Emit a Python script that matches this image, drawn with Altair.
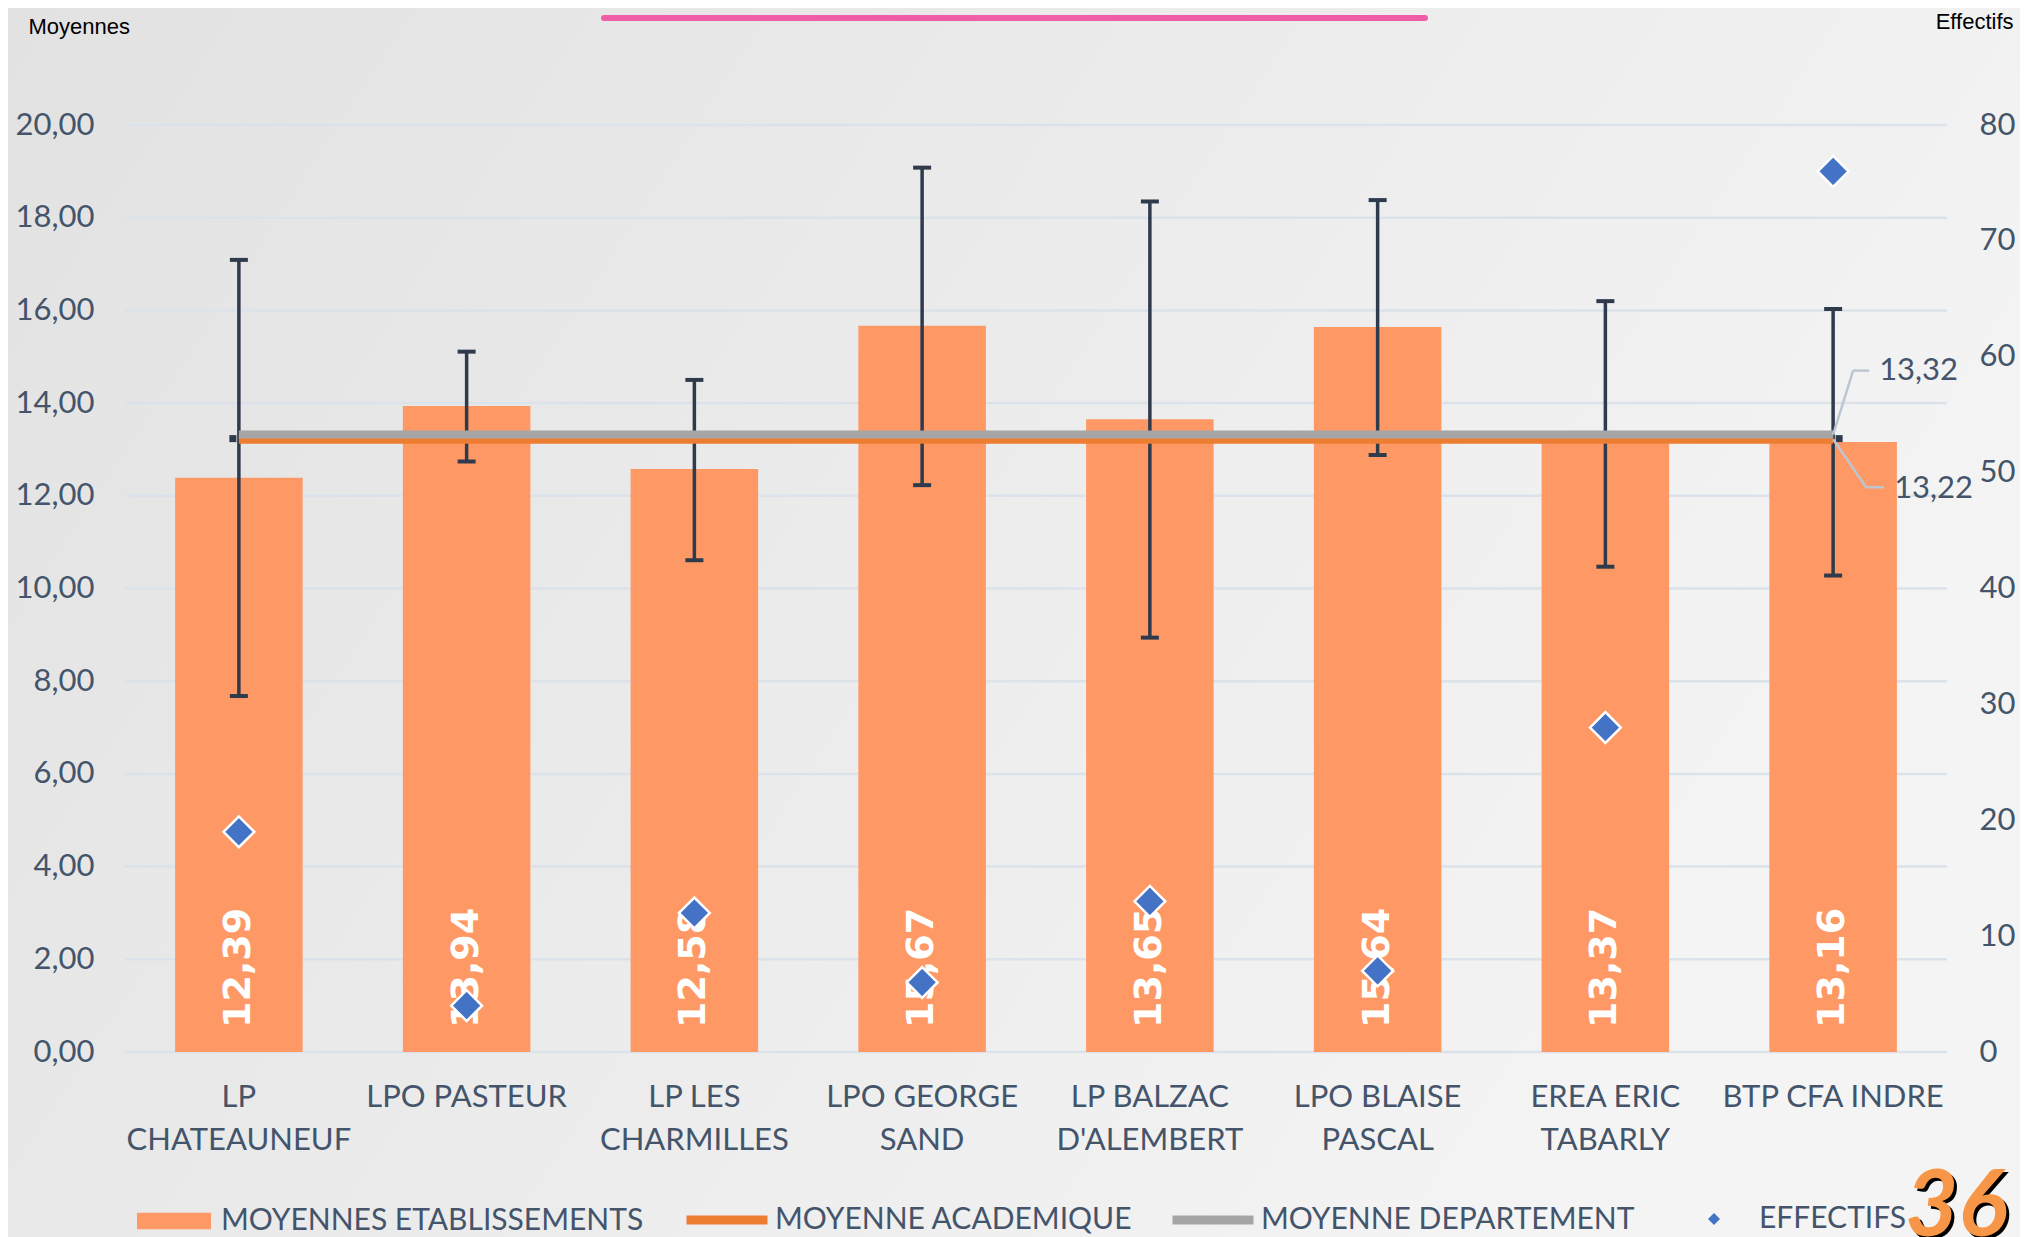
import altair as alt
import pandas as pd

# ---------------- data ----------------
ecoles = ["LP\nCHATEAUNEUF", "LPO PASTEUR", "LP LES\nCHARMILLES", "LPO GEORGE\nSAND",
          "LP BALZAC\nD'ALEMBERT", "LPO BLAISE\nPASCAL", "EREA ERIC\nTABARLY", "BTP CFA INDRE"]
moyennes = [12.39, 13.94, 12.58, 15.67, 13.65, 15.64, 13.37, 13.16]
bas = [7.68, 12.74, 10.61, 12.23, 8.94, 12.88, 10.47, 10.28]
haut = [17.09, 15.11, 14.50, 19.08, 18.35, 18.38, 16.20, 16.03]
effectifs = [19, 4, 12, 6, 13, 7, 28, 76]
moy_academique = 13.22
moy_departement = 13.32
left_ticks = list(range(0, 21, 2))
right_ticks = list(range(0, 81, 10))

S_BAR = "MOYENNES ETABLISSEMENTS"
S_ACA = "MOYENNE ACADEMIQUE"
S_DEP = "MOYENNE DEPARTEMENT"
S_EFF = "EFFECTIFS"

# ---------------- style ----------------
W, H = 1822, 927
PAD_B = 185
FONT = "Lato"
TXT = "#44546A"
GRID = "#DCE2EA"
BAR = "#FE9966"
ORANGE = "#ED7D31"
GRAY = "#A5A5A5"
BLUE = "#4472C4"
DARK = "#2F3B4C"

df = pd.DataFrame({"ecole": ecoles, "moyenne": moyennes, "bas": bas, "haut": haut,
                   "effectif": effectifs})
df["etiquette"] = [f"{v:.2f}".replace(".", ",") for v in moyennes]
df["serie"] = S_BAR
df["serie_eff"] = S_EFF

lines = pd.DataFrame([{"ecole": e, "serie": s, "valeur": v,
                       "etiquette": f"{v:.2f}".replace(".", ",")}
                      for s, v in [(S_ACA, moy_academique), (S_DEP, moy_departement)]
                      for e in ecoles])
grid_df = pd.DataFrame({"v": left_ticks})

x_enc = alt.X("ecole:N", sort=ecoles,
              scale=alt.Scale(paddingInner=0.44, paddingOuter=0.22),
              axis=alt.Axis(title=None, labelExpr="split(datum.label, '\\n')", labelAngle=0,
                            labelFont=FONT, labelFontSize=31, labelColor=TXT,
                            labelLineHeight=43, labelPadding=30, ticks=False, domain=False,
                            labelBaseline="top", labelLimit=400, grid=False, zindex=1))

y_scale = alt.Scale(domain=[0, 20], nice=False, zero=True)
y_axis = alt.Axis(title="Moyennes", values=left_ticks,
                  labelExpr="replace(format(datum.value, '.2f'), '.', ',')",
                  grid=False, ticks=False, domain=False, zindex=1,
                  labelFont=FONT, labelFontSize=31, labelColor=TXT, labelPadding=31,
                  titleAngle=0, titleX=-97, titleY=-99, titleAlign="left",
                  titleBaseline="middle", titleFont="Liberation Sans", titleFontSize=22,
                  titleFontWeight="normal", titleColor="#000000")


def yq(field):
    return alt.Y(field, scale=y_scale, title="Moyennes")


leg_common = dict(orient="none", title=None, labelFont=FONT, labelFontSize=30,
                  labelColor=TXT, labelLimit=800)

grid = alt.Chart(grid_df).mark_rule(color=GRID, strokeWidth=2.5).encode(y=yq("v:Q"))

bars = alt.Chart(df).mark_bar().encode(
    x=x_enc,
    y=alt.Y("moyenne:Q", scale=y_scale, axis=y_axis),
    fill=alt.Fill("serie:N", scale=alt.Scale(domain=[S_BAR], range=[BAR]),
                  legend=alt.Legend(legendX=12, legendY=1059,
                                    symbolType="M-1,-0.22H1V0.22H-1Z", symbolSize=5476,
                                    symbolStrokeWidth=0, labelOffset=10, **leg_common)),
)

vals = alt.Chart(df).mark_text(angle=270, align="left", baseline="middle", dx=24,
                               font="DejaVu Sans", fontWeight="bold", fontSize=38,
                               color="white").encode(
    x=x_enc, y=alt.datum(0), text="etiquette:N")

err = alt.Chart(df).mark_rule(color=DARK, strokeWidth=3.5).encode(
    x=x_enc, y=yq("bas:Q"), y2="haut:Q")
cap_lo = alt.Chart(df).mark_tick(color=DARK, size=18, thickness=4, opacity=1).encode(
    x=x_enc, y=yq("bas:Q"))
cap_hi = alt.Chart(df).mark_tick(color=DARK, size=18, thickness=4, opacity=1).encode(
    x=x_enc, y=yq("haut:Q"))

stroke_enc = alt.Stroke("serie:N", scale=alt.Scale(domain=[S_ACA, S_DEP], range=[ORANGE, GRAY]),
                        legend=alt.Legend(legendX=557, legendY=1050, direction="horizontal",
                                          symbolType="stroke", symbolSize=6561,
                                          symbolStrokeWidth=9, labelOffset=3,
                                          columnPadding=21, **leg_common))

line_aca = alt.Chart(lines).transform_filter(alt.datum.serie == S_ACA).mark_line(
    strokeWidth=9).encode(x=x_enc, y=yq("valeur:Q"), stroke=stroke_enc)
line_dep = alt.Chart(lines).transform_filter(alt.datum.serie == S_DEP).mark_line(
    strokeWidth=8).encode(x=x_enc, y=yq("valeur:Q"), stroke=stroke_enc)

# small end markers of the average lines
first = alt.Chart(lines).transform_filter(
    (alt.datum.ecole == ecoles[0]) & (alt.datum.serie == S_DEP))
end_l = first.mark_square(size=49, color=DARK, opacity=1, xOffset=-6, yOffset=4).encode(
    x=x_enc, y=yq("valeur:Q"))

last = alt.Chart(lines).transform_filter(alt.datum.ecole == ecoles[-1])
end_r = last.transform_filter(alt.datum.serie == S_DEP).mark_square(
    size=49, color=DARK, opacity=1, xOffset=6, yOffset=4).encode(x=x_enc, y=yq("valeur:Q"))

LEAD = dict(color="#BCC6D0", strokeWidth=2.5)
lead_dep1 = last.transform_filter(alt.datum.serie == S_DEP).mark_rule(
    x2Offset=20, y2Offset=-64, **LEAD).encode(
    x=x_enc, x2="ecole:N", y=yq("valeur:Q"), y2="valeur:Q")
lead_dep2 = last.transform_filter(alt.datum.serie == S_DEP).mark_rule(
    xOffset=20, yOffset=-64, x2Offset=36, y2Offset=-64, **LEAD).encode(
    x=x_enc, x2="ecole:N", y=yq("valeur:Q"), y2="valeur:Q")
lead_aca1 = last.transform_filter(alt.datum.serie == S_ACA).mark_rule(
    x2Offset=33, y2Offset=48, **LEAD).encode(
    x=x_enc, x2="ecole:N", y=yq("valeur:Q"), y2="valeur:Q")
lead_aca2 = last.transform_filter(alt.datum.serie == S_ACA).mark_rule(
    xOffset=33, yOffset=48, x2Offset=51, y2Offset=48, **LEAD).encode(
    x=x_enc, x2="ecole:N", y=yq("valeur:Q"), y2="valeur:Q")
lab_dep = last.transform_filter(alt.datum.serie == S_DEP).mark_text(
    align="left", baseline="middle", dx=46, dy=-64, font=FONT, fontSize=31, color=TXT).encode(
    x=x_enc, y=yq("valeur:Q"), text="etiquette:N")
lab_aca = last.transform_filter(alt.datum.serie == S_ACA).mark_text(
    align="left", baseline="middle", dx=61, dy=50, font=FONT, fontSize=31, color=TXT).encode(
    x=x_enc, y=yq("valeur:Q"), text="etiquette:N")

left = alt.layer(grid, bars, vals, err, cap_lo, cap_hi, line_aca, line_dep, end_l, end_r,
                 lead_dep1, lead_dep2, lead_aca1, lead_aca2, lab_dep, lab_aca)

points = alt.Chart(df).mark_point(filled=True, size=950, fill=BLUE, stroke="white",
                                  strokeWidth=2.5, opacity=1).encode(
    x=x_enc,
    y=alt.Y("effectif:Q", scale=alt.Scale(domain=[0, 80], nice=False),
            axis=alt.Axis(orient="right", values=right_ticks, grid=False, ticks=False,
                          domain=False, zindex=1, labelFont=FONT, labelFontSize=31,
                          labelColor=TXT, labelPadding=32, title="Effectifs", titleAngle=0,
                          titleX=66, titleY=-104, titleAlign="right", titleBaseline="middle",
                          titleFont="Liberation Sans", titleFontSize=22,
                          titleFontWeight="normal", titleColor="#000000")),
    shape=alt.Shape("serie_eff:N", scale=alt.Scale(domain=[S_EFF], range=["diamond"]),
                    legend=alt.Legend(legendX=1574, legendY=1079, symbolSize=144,
                                      symbolFillColor=BLUE, symbolStrokeColor="white",
                                      symbolStrokeWidth=1, labelOffset=30, **leg_common)),
)

one = pd.DataFrame({"k": [0]})
bg = alt.Chart(one).mark_rect(
    fill=alt.LinearGradient(gradient="linear", x1=0, y1=0, x2=1, y2=0.4,
                            stops=[alt.GradientStop(color="#E2E2E2", offset=0),
                                   alt.GradientStop(color="#F4F4F4", offset=1)])).encode(
    x=alt.value(-117), x2=alt.value(W + 73), y=alt.value(-117), y2=alt.value(H + PAD_B))
pink = alt.Chart(one).mark_rule(color="#EF5DA8", strokeWidth=6, strokeCap="round").encode(
    x=alt.value(479), x2=alt.value(1300), y=alt.value(-107), y2=alt.value(-107))
shadow36 = alt.Chart(one).mark_text(text="36", font=FONT, fontStyle="italic", fontWeight="bold",
                                    fontSize=92, color="#000000", align="left",
                                    baseline="alphabetic").encode(
    x=alt.value(1783), y=alt.value(1114))
num36 = alt.Chart(one).mark_text(text="36", font=FONT, fontStyle="italic", fontWeight="bold",
                                 fontSize=92, color="#F79646", align="left",
                                 baseline="alphabetic").encode(
    x=alt.value(1780), y=alt.value(1111))

chart = alt.layer(bg, pink, left, points, shadow36, num36).resolve_scale(
    y="independent").properties(
    width=W, height=H, autosize=alt.AutoSizeParams(type="none"),
    padding={"left": 117, "top": 117, "right": 73, "bottom": PAD_B},
    background="#EBEBEB",
).configure_view(strokeWidth=0)

chart.save("out.html", embed_options={"renderer": "svg", "actions": False})
